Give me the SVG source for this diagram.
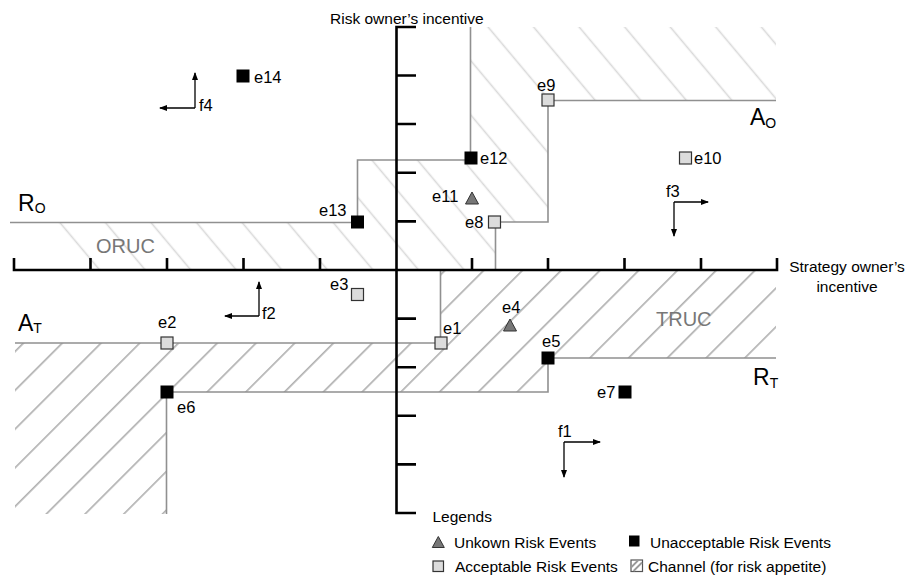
<svg xmlns="http://www.w3.org/2000/svg" width="914" height="575" viewBox="0 0 914 575">
<style>
text{font-family:"Liberation Sans",Arial,sans-serif;fill:#000}
.lbl{font-size:16.5px}
.ax{stroke:#000;stroke-width:2.6;fill:none}
.bnd{stroke:#909090;stroke-width:1.6;fill:none}
.acc{fill:#dcdcdc;stroke:#333;stroke-width:1.2}
.una{fill:#000}
.unk{fill:#777;stroke:#333;stroke-width:1}
.arr{stroke:#000;stroke-width:1.3;fill:none;marker-end:url(#ah)}
.big{font-size:23px}
.sub{font-size:14px}
.zone{font-size:20px;fill:#777}
.leg{font-size:15.5px}
.axl{font-size:15.5px}
</style>
<defs>
<pattern id="hUp" patternUnits="userSpaceOnUse" width="34.9" height="20" patternTransform="rotate(-40)">
<line x1="7.5" y1="-1" x2="7.5" y2="21" stroke="#d9d9d9" stroke-width="1.6"/>
</pattern>
<pattern id="hDn" patternUnits="userSpaceOnUse" width="27.4" height="20" patternTransform="rotate(45)">
<line x1="12.6" y1="-1" x2="12.6" y2="21" stroke="#a8a8a8" stroke-width="1.5"/>
</pattern>
<marker id="ah" markerWidth="8" markerHeight="6" refX="7" refY="3" orient="auto" markerUnits="userSpaceOnUse"><path d="M0,0 L8,3 L0,6 z" fill="#000"/></marker>
</defs>

<g id="channels">
<path d="M55,222 H357 V160 H470 V27 H776 V100 H548 V222 H496 V270 H55 Z" fill="url(#hUp)"/>
<path d="M15,343 H441 V271 H776 V358 H548 V392 H167 V514 H15 Z" fill="url(#hDn)"/>
</g>

<g id="connectors">
<path class="bnd" d="M10,222.5 H357.5 V160 H470.5 V27"/>
<path class="bnd" d="M776,100.5 H548 V222 H495.5 V270"/>
<path class="bnd" d="M15,343 H440.5 V271"/>
<path class="bnd" d="M776,358 H548 V392 H166.5 V514"/>
</g>

<g id="axes">
<path class="ax" d="M14,258 V270 H777 V258"/>
<path class="ax" d="M90.5,270 V258 M167,270 V258 M243.5,270 V258 M320,270 V258 M472,270 V258 M548,270 V258 M624.5,270 V258 M701,270 V258"/>
<path class="ax" d="M416,27 H396.5 V513 H416"/>
<path class="ax" d="M396.5,75.5 H416 M396.5,124 H416 M396.5,172.8 H416 M396.5,221.4 H416 M396.5,318.6 H416 M396.5,367.2 H416 M396.5,415.8 H416 M396.5,464.4 H416"/>
<text class="axl" x="330" y="24">Risk owner’s incentive</text>
<text class="axl" x="847" y="271.5" text-anchor="middle">Strategy owner’s</text>
<text class="axl" x="847" y="291.5" text-anchor="middle">incentive</text>
</g>

<g id="zone-labels">
<text class="zone" x="96" y="252.5">ORUC</text>
<text class="zone" x="656" y="326" font-size="19.5">TRUC</text>
<text class="big" x="18" y="211">R<tspan class="sub" dy="2">O</tspan></text>
<text class="big" x="750" y="125">A<tspan class="sub" dy="3">O</tspan></text>
<text class="big" x="18" y="330.5">A<tspan class="sub" dy="2.5">T</tspan></text>
<text class="big" x="753" y="385">R<tspan class="sub" dy="3">T</tspan></text>
</g>

<g id="e1"><rect class="acc" x="435" y="337" width="12" height="12"/><text class="lbl" x="443" y="334">e1</text></g>
<g id="e2"><rect class="acc" x="161" y="337" width="12" height="12"/><text class="lbl" x="158" y="328">e2</text></g>
<g id="e3"><rect class="acc" x="351.5" y="288.5" width="12" height="12"/><text class="lbl" x="330" y="289.5" font-size="14">e3</text></g>
<g id="e4"><path class="unk" d="M510,319 L516.5,331 L503.5,331 Z"/><text class="lbl" x="502" y="313">e4</text></g>
<g id="e5"><rect class="una" x="541.5" y="351.5" width="13" height="13"/><text class="lbl" x="542" y="346.5">e5</text></g>
<g id="e6"><rect class="una" x="160.5" y="385.5" width="13" height="13"/><text class="lbl" x="177" y="413">e6</text></g>
<g id="e7"><rect class="una" x="618.5" y="385.5" width="13" height="13"/><text class="lbl" x="597" y="398">e7</text></g>
<g id="e8"><rect class="acc" x="488.5" y="216" width="12" height="12"/><text class="lbl" x="465" y="227.5">e8</text></g>
<g id="e9"><rect class="acc" x="542" y="94" width="12" height="12"/><text class="lbl" x="537" y="91">e9</text></g>
<g id="e10"><rect class="acc" x="679.5" y="152" width="12" height="12"/><text class="lbl" x="694" y="164">e10</text></g>
<g id="e11"><path class="unk" d="M472,192 L478.5,204 L465.5,204 Z"/><text class="lbl" x="432" y="201.5">e11</text></g>
<g id="e12"><rect class="una" x="464.5" y="151.5" width="13" height="13"/><text class="lbl" x="480" y="164">e12</text></g>
<g id="e13"><rect class="una" x="351" y="215.5" width="13" height="13"/><text class="lbl" x="319" y="216">e13</text></g>
<g id="e14"><rect class="una" x="236.5" y="69.5" width="13" height="13"/><text class="lbl" x="254" y="82.5">e14</text></g>

<g id="f1"><path class="arr" d="M564,442 H600"/><path class="arr" d="M564,442 V477"/><text class="lbl" x="558" y="436.5">f1</text></g>
<g id="f2"><path class="arr" d="M259,316 V282"/><path class="arr" d="M259,316 H225"/><text class="lbl" x="262" y="319">f2</text></g>
<g id="f3"><path class="arr" d="M674,202 H708"/><path class="arr" d="M674,202 V236"/><text class="lbl" x="666" y="196.5">f3</text></g>
<g id="f4"><path class="arr" d="M195,108 V73"/><path class="arr" d="M195,108 H160"/><text class="lbl" x="199" y="111">f4</text></g>

<g id="legend">
<text class="leg" x="432.5" y="521.5">Legends</text>
<path class="unk" d="M438.3,536.5 L444.3,547.5 L432.3,547.5 Z"/>
<text class="leg" x="454" y="548">Unkown Risk Events</text>
<rect class="una" x="629" y="535.5" width="10.5" height="11"/>
<text class="leg" x="650" y="548">Unacceptable Risk Events</text>
<rect class="acc" x="433" y="561" width="10.5" height="10.5"/>
<text class="leg" x="455" y="571.5">Acceptable Risk Events</text>
<rect x="631" y="560" width="11.5" height="11.5" fill="#fff" stroke="#555" stroke-width="1.2"/>
<path d="M631.5,567 L638,560.5 M633.5,571 L642,562.5" stroke="#999" stroke-width="1.8"/>
<text class="leg" x="648" y="571.5">Channel (for risk appetite)</text>
</g>
</svg>
